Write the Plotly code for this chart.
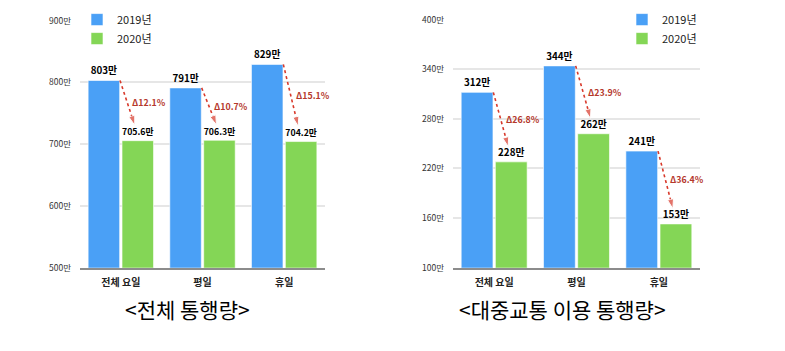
import plotly.graph_objects as go

categories = ["전체 요일", "평일", "휴일"]
total_2019 = [803, 791, 829]
total_2020 = [705.6, 706.3, 704.2]
total_delta = ["Δ12.1%", "Δ10.7%", "Δ15.1%"]
transit_2019 = [312, 344, 241]
transit_2020 = [228, 262, 153]
transit_delta = ["Δ26.8%", "Δ23.9%", "Δ36.4%"]
series_names = ["2019년", "2020년"]
total_ticks = [500, 600, 700, 800, 900]
transit_ticks = [100, 160, 220, 280, 340, 400]
chart_titles = ["<전체 통행량>", "<대중교통 이용 통행량>"]

BLUE = "#4aa0f6"
GREEN = "#84d656"
RED = "#d8392b"
DRED = "#b5382c"
FONT = "Noto Sans CJK KR"

fig = go.Figure()
xs = list(range(len(categories)))


def lab(v):
    return f"{v:g}만"


def add_chart(n, v19, v20, deltas, gap_val):
    xa = "x" if n == 1 else "x2"
    ya = "y" if n == 1 else "y2"
    lg = "legend" if n == 1 else "legend2"
    for name, vals, col, og in [(series_names[0], v19, BLUE, "a"), (series_names[1], v20, GREEN, "b")]:
        fig.add_trace(go.Bar(x=xs, y=vals, name=name, marker_color=col,
                             marker_line=dict(color="rgba(255,255,255,0.6)", width=1),
                             text=[lab(v) for v in vals], textposition="outside",
                             textfont=dict(size=9.8, color="black", family=FONT, weight="bold"),
                             cliponaxis=False, xaxis=xa, yaxis=ya, legend=lg, offsetgroup=og))
    for i in xs:
        x0, y0 = i - 0.01, v19[i]
        x1, y1 = i + 0.17, v20[i] + gap_val
        fig.add_trace(go.Scatter(x=[x0, x1], y=[y0, y1], mode="lines+markers",
                                 line=dict(color=RED, width=1.6, dash="dot"),
                                 marker=dict(symbol="arrow", size=[0, 10], color=RED, angleref="previous"),
                                 showlegend=False, hoverinfo="skip", cliponaxis=False,
                                 xaxis=xa, yaxis=ya))
        fig.add_annotation(x=(x0 + x1) / 2, y=(y0 + y1) / 2, xref=xa, yref=ya,
                           text=f"<b>{deltas[i]}</b>", showarrow=False, xanchor="left",
                           xshift=3, font=dict(size=8.8, color=DRED, family=FONT))


add_chart(1, total_2019, total_2020, total_delta, 25)
add_chart(2, transit_2019, transit_2020, transit_delta, 18.5)

W, H = 785, 351
axis_common = dict(showgrid=False, showline=True, linecolor="#8c8c8c", linewidth=2,
                   tickvals=xs, ticktext=[f"<b>{c}</b>" for c in categories],
                   tickfont=dict(size=10, color="#222", family=FONT), range=[-0.5, 2.5],
                   ticks="", zeroline=False, ticklabelstandoff=4)
yaxis_common = dict(showgrid=True, gridcolor="#e6e6e6", gridwidth=1.5, zeroline=False,
                    tickfont=dict(size=8.5, color="#333", family=FONT),
                    ticks="", showline=False, ticklabelstandoff=8)

fig.update_layout(
    width=W, height=H,
    margin=dict(l=0, r=0, t=0, b=0),
    paper_bgcolor="white", plot_bgcolor="white",
    barmode="group", bargap=0.17, bargroupgap=0.07,
    font=dict(family=FONT),
    xaxis=dict(domain=[80 / W, 325 / W], anchor="y", **axis_common),
    xaxis2=dict(domain=[453 / W, 700 / W], anchor="y2", **axis_common),
    yaxis=dict(domain=[1 - 270 / H, 1 - 14 / H], range=[500, 900], tickvals=total_ticks,
               ticktext=[f"{t}만" for t in total_ticks], anchor="x", **yaxis_common),
    yaxis2=dict(domain=[1 - 270 / H, 1 - 13 / H], range=[100, 400], tickvals=transit_ticks,
                ticktext=[f"{t}만" for t in transit_ticks], anchor="x2", **yaxis_common),
    legend=dict(x=77 / W, y=1 + 2 / H, xanchor="left", yanchor="top",
                font=dict(size=11, color="#222", family=FONT), bgcolor="rgba(0,0,0,0)",
                tracegroupgap=0, itemwidth=30),
    legend2=dict(x=622 / W, y=1 + 2 / H, xanchor="left", yanchor="top",
                 font=dict(size=11, color="#222", family=FONT), bgcolor="rgba(0,0,0,0)",
                 tracegroupgap=0, itemwidth=30),
    showlegend=True,
)

for cx, t in zip([187, 562], chart_titles):
    fig.add_annotation(x=cx / W, y=1 - 313 / H, xref="paper", yref="paper", text=t,
                       showarrow=False, xanchor="center", yanchor="middle",
                       font=dict(size=21, color="black", family=FONT))

fig.write_html("out.html")
